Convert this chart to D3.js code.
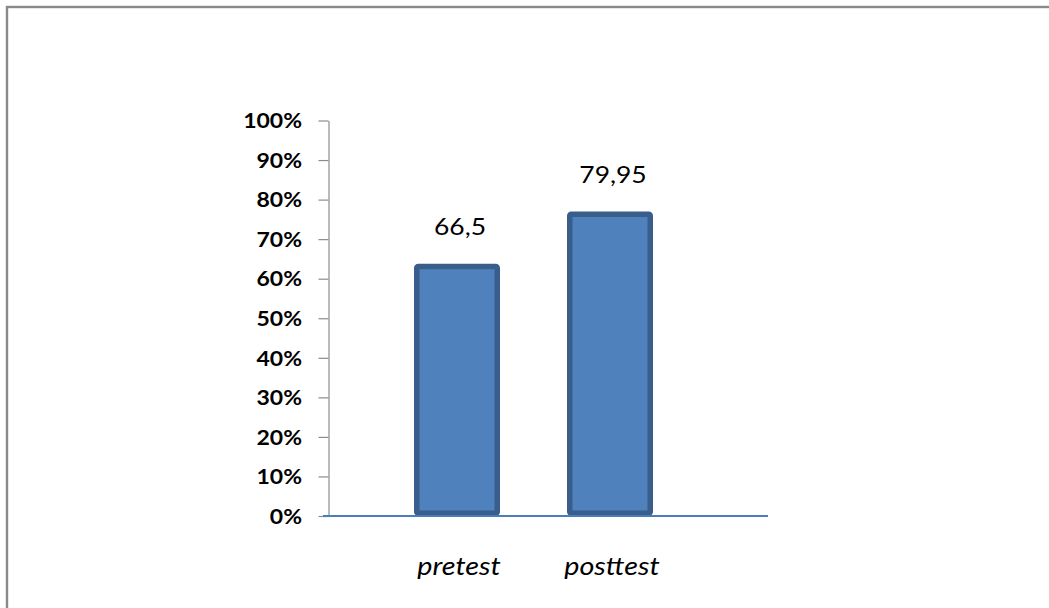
<!DOCTYPE html>
<html>
<head>
<meta charset="utf-8">
<script src="https://cdn.jsdelivr.net/npm/d3@7"></script>
<style>
  html, body { margin: 0; padding: 0; background: #fff; }
  svg { display: block; }
</style>
</head>
<body>
<svg id="chart" width="1049" height="608"></svg>
<script>
// ---- data ----
const categories = ["pretest", "posttest"];
const barValues = [0.631, 0.763];          // bar heights as drawn (share of 100%)
const valueLabels = ["66,5", "79,95"];      // labels printed above bars
const yTicks = [0, 0.1, 0.2, 0.3, 0.4, 0.5, 0.6, 0.7, 0.8, 0.9, 1.0];
const yTickLabels = ["0%", "10%", "20%", "30%", "40%", "50%", "60%", "70%", "80%", "90%", "100%"];

// ---- layout ----
const W = 1049, H = 608;
const SX = 1.15; // horizontal text stretch seen in the reference
const FONT = "Lato, 'Open Sans', sans-serif";
const svg = d3.select("#chart");

// outer frame
svg.append("rect")
  .attr("x", 7).attr("y", 7)
  .attr("width", W + 20).attr("height", H + 20)
  .attr("fill", "#fff")
  .attr("stroke", "#8a8a8a")
  .attr("stroke-width", 2.4);

const y = d3.scaleLinear().domain([0, 1]).range([516, 120.5]);
const x = d3.scaleBand().domain(categories).range([380.5, 686.5]).paddingInner(0.43).paddingOuter(0.215);
const barW = 86;

// y axis
const yAxis = d3.axisLeft(y)
  .tickValues(yTicks)
  .tickFormat((d, i) => yTickLabels[i])
  .tickSize(10)
  .tickSizeOuter(0);
const gy = svg.append("g").attr("transform", "translate(328.5,0)").call(yAxis);
gy.select(".domain").attr("stroke", "#8c8c8c").attr("stroke-width", 1.2);
gy.selectAll(".tick line").attr("stroke", "#8c8c8c").attr("stroke-width", 1.2);
gy.selectAll(".tick text")
  .attr("x", 0).attr("dy", null)
  .attr("transform", `translate(-26.5,7.2) scale(${SX},1)`)
  .attr("text-anchor", "end")
  .attr("fill", "#000")
  .style("font-family", FONT)
  .style("font-weight", "bold")
  .style("font-size", "20px");

// bars
const stroke = 5.5;
svg.append("g").selectAll("rect")
  .data(categories)
  .join("rect")
  .attr("x", (d) => x(d) + x.bandwidth() / 2 - barW / 2 + stroke / 2)
  .attr("width", barW - stroke)
  .attr("y", (d, i) => y(barValues[i]))
  .attr("height", (d, i) => y(0) - stroke / 2 - y(barValues[i]))
  .attr("rx", 1.5)
  .attr("fill", "#4f81bd")
  .attr("stroke", "#3a5e8c")
  .attr("stroke-width", stroke);

// baseline
svg.append("line")
  .attr("x1", 323).attr("x2", 768)
  .attr("y1", y(0)).attr("y2", y(0))
  .attr("stroke", "#4a7ebb")
  .attr("stroke-width", 2);

// value labels
svg.append("g").selectAll("g")
  .data(categories)
  .join("g")
  .attr("transform", (d, i) => `translate(${x(d) + x.bandwidth() / 2 + 3},${y(barValues[i]) - 31}) scale(${SX},1)`)
  .append("text")
  .attr("text-anchor", "middle")
  .attr("fill", "#000")
  .style("font-family", FONT)
  .style("font-size", "23px")
  .text((d, i) => valueLabels[i]);

// category labels
svg.append("g").selectAll("g")
  .data(categories)
  .join("g")
  .attr("transform", (d) => `translate(${x(d) + x.bandwidth() / 2 + 2},575) scale(${SX},1)`)
  .append("text")
  .attr("text-anchor", "middle")
  .attr("fill", "#000")
  .style("font-family", FONT)
  .style("font-style", "italic")
  .style("font-size", "25px")
  .text((d) => d);
</script>
</body>
</html>
